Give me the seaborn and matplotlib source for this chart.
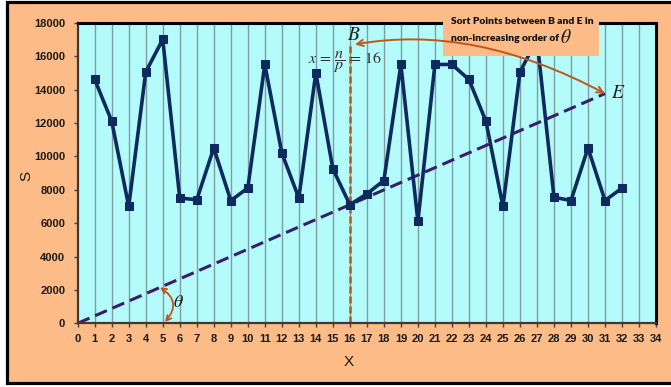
import matplotlib
matplotlib.use("Agg")
import matplotlib.pyplot as plt
from matplotlib.patches import Rectangle
import seaborn as sns
import pandas as pd

# Data: value S at each position X
x_vals = list(range(1, 33))
s_vals = [14600, 12100, 7000, 15050, 17000, 7500, 7400, 10500, 7350, 8100,
          15500, 10200, 7500, 15000, 9250, 7100, 7750, 8550, 15500, 6100,
          15500, 15500, 14600, 12100, 7000, 15050, 17000, 7550, 7350, 10500,
          7350, 8100]
x_ticks = list(range(0, 35))
y_ticks = list(range(0, 18001, 2000))

# Reference line from the origin through point B (x = n/p = 16) to point E
split_x = 16
end_x = 31
slope = s_vals[split_x - 1] / split_x
line_x = [0, end_x]
line_y = [0, slope * end_x]
split_top = 16600

peach = "#FCBB87"
cyan = "#B4FCFC"
navy = "#0E2A5E"
purple = "#3A1E6A"
rust = "#C0561A"

sns.set_style("white")
plt.rcParams["mathtext.fontset"] = "stix"

fig = plt.figure(figsize=(6.71, 3.87), dpi=100, facecolor="white")
# framed peach background
fig.add_artist(Rectangle((6.5 / 671, (387 - 382.5) / 387), 1.2, (381.0) / 387,
                         transform=fig.transFigure, facecolor=peach,
                         edgecolor="black", lw=2.3, zorder=-10))

ax = fig.add_axes([0.1158, 0.1646, 0.8619, 0.7767])
ax.set_facecolor(cyan)

df = pd.DataFrame({"X": x_vals, "S": s_vals})

# vertical grid at every integer X
for xv in x_ticks[1:-1]:
    ax.axvline(xv, color="#7E9E9E", lw=1.0, zorder=0.5)

ax.plot(line_x, line_y, color=purple, lw=2.2, dashes=(4.2, 2.0), zorder=2)
ax.plot([split_x, split_x], [0, split_top], color=rust, lw=1.8,
        dashes=(2.8, 1.2), zorder=2.2)

sns.lineplot(data=df, x="X", y="S", ax=ax, color=navy, lw=2.6, marker="s",
             markersize=6.0, markeredgecolor=navy, markerfacecolor=navy,
             zorder=3)

ax.set_xlim(0, 34)
ax.set_ylim(0, 18000)
ax.set_xticks(x_ticks)
ax.set_yticks(y_ticks)
ax.set_xticklabels([str(t) for t in x_ticks], fontsize=8, fontweight="bold",
                   family="Liberation Sans", color="#1a1a1a")
ax.set_yticklabels([str(t) for t in y_ticks], fontsize=8, fontweight="bold",
                   family="Liberation Sans", color="#1a1a1a")
ax.tick_params(axis="x", direction="out", length=3, width=1, color="#404040",
               pad=5, bottom=True)
ax.tick_params(axis="y", direction="out", length=3, width=1, color="#404040",
               pad=6, left=True)

ax.set_xlabel("X", fontsize=11, family="Liberation Sans", color="#1a1a1a")
ax.set_ylabel("S", fontsize=11, family="Liberation Sans", color="#1a1a1a")
ax.xaxis.set_label_coords(0.469, -0.107)
ax.yaxis.set_label_coords(-0.077, 0.49)

for side in ("top", "right"):
    ax.spines[side].set_color("black")
    ax.spines[side].set_linewidth(2.2)
for side in ("left", "bottom"):
    ax.spines[side].set_color("#3a3a3a")
    ax.spines[side].set_linewidth(1.6)

# note box over the top edge of the plot
ax.add_patch(Rectangle((0.6317, 0.889), 0.2697, 0.1443, transform=ax.transAxes,
                       facecolor=peach, edgecolor="none", clip_on=False,
                       zorder=6))
ax.text(0.6455, 1.0057, "Sort Points between B and E in", transform=ax.transAxes,
        fontsize=7.4, fontweight="heavy", family="Lato", color="#111111",
        ha="left", va="center", zorder=7, clip_on=False)
ax.text(0.6455, 0.949, "non-increasing order of", transform=ax.transAxes,
        fontsize=7.4, fontweight="heavy", family="Lato", color="#111111",
        ha="left", va="center", zorder=7, clip_on=False)
ax.text(0.8444, 0.951, r"$\theta$", transform=ax.transAxes, fontsize=14,
        color="#1a1a1a", ha="center", va="center", zorder=7, clip_on=False)

# B and E markers with the connecting double arrow
ax.text(16.25, 17300, r"$B$", fontsize=14, color="#222222", ha="center",
        va="center", zorder=7)
ax.text(31.75, 13800, r"$E$", fontsize=14, color="#222222", ha="center",
        va="center", zorder=7)
ax.annotate("", xy=(16.3, 16700), xytext=(line_x[1], line_y[1]),
            arrowprops=dict(arrowstyle="<->,head_length=0.45,head_width=0.22",
                            connectionstyle="angle3,angleA=-28,angleB=10",
                            color=rust, lw=1.4, shrinkA=0, shrinkB=0),
            zorder=8, annotation_clip=False)

ax.text(15.7, 15650, r"$x\,=\,\dfrac{n}{p}\,=\,16$", fontsize=11.5,
        color="#333333", ha="center", va="center", zorder=4)

# angle theta at the origin line
ax.annotate("", xy=(4.84, slope * 4.84), xytext=(5.13, 80),
            arrowprops=dict(arrowstyle="<->,head_length=0.35,head_width=0.18",
                            connectionstyle="arc3,rad=0.57",
                            color=rust, lw=1.3, shrinkA=0, shrinkB=0),
            zorder=8)
ax.text(5.9, 1250, r"$\theta$", fontsize=13, color="#1a1a1a", ha="center",
        va="center", zorder=8)

fig.savefig("out.png", dpi=100, facecolor="white")
